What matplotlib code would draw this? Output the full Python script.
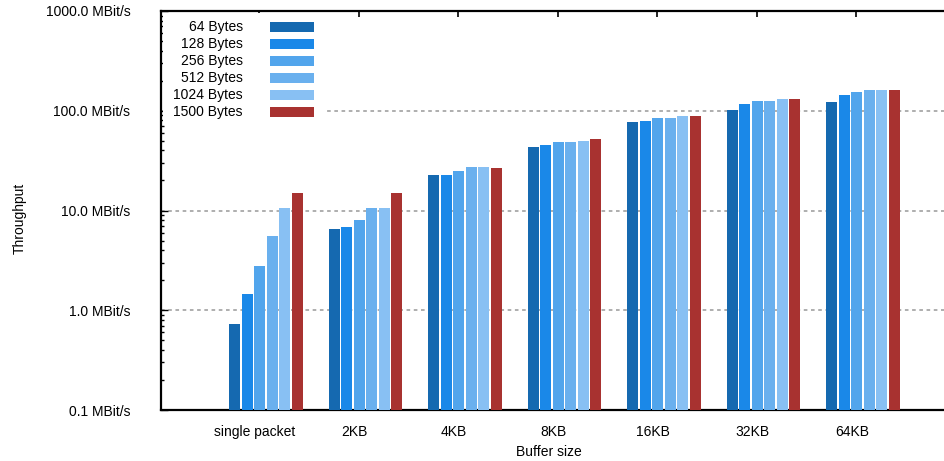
import numpy as np
import matplotlib
matplotlib.use("Agg")
import matplotlib.pyplot as plt
from matplotlib.patches import Rectangle

plt.rcParams['font.family'] = ['Liberation Sans', 'DejaVu Sans']
plt.rcParams['font.size'] = 10

# data (MBit/s)
buffers = ['single packet', '2KB', '4KB', '8KB', '16KB', '32KB', '64KB']
series = ['64 Bytes', '128 Bytes', '256 Bytes', '512 Bytes', '1024 Bytes', '1500 Bytes']
colors = ['#1569b0', '#1a88e8', '#52a5ec', '#6ab0ee', '#88c0f3', '#a83230']

tp_64 = [0.63, 6.4, 22.7, 43.3, 77.0, 102, 122]
tp_128 = [1.36, 6.7, 22.7, 45.4, 79.0, 117, 144]
tp_256 = [2.65, 7.85, 24.9, 48.6, 84.5, 125, 154]
tp_512 = [5.4, 10.6, 27.3, 48.6, 84.5, 125, 161]
tp_1024 = [10.6, 10.6, 27.3, 49.7, 88.5, 131, 161]
tp_1500 = [15.0, 15.0, 26.7, 52.1, 88.5, 131, 161]
values = [tp_64, tp_128, tp_256, tp_512, tp_1024, tp_1500]

fig = plt.figure(figsize=(9.44, 4.61), dpi=100)
ax = fig.add_axes([161/944, 1 - 410/461, (944 - 161)/944, 399/461])

x = np.arange(len(buffers))
pitch = 0.126
width = 0.112
shift = 0.067
for j, (vals, col) in enumerate(zip(values, colors)):
    ax.bar(x + shift + (j - 2.5) * pitch, vals, width=width, color=col,
           bottom=0.1, zorder=3)

ax.set_yscale('log')
ax.set_ylim(0.1, 1000)
ax.set_xlim(-0.988, 6.88)

ax.set_yticks([0.1, 1, 10, 100, 1000])
ax.set_yticklabels(['%.1f MBit/s' % v for v in [0.1, 1, 10, 100, 1000]])
# labels sit a bit left of the tick marks, like gnuplot does
ax.set_xticks(x - 0.045)
ax.set_xticklabels(buffers)
ax.set_xticks(x, minor=True)

ax.tick_params(axis='y', which='major', direction='in', length=5, width=1, pad=22)
ax.tick_params(axis='y', which='minor', direction='in', length=2.5, width=1)
ax.tick_params(axis='x', which='major', length=0, bottom=False, top=False,
               labelbottom=True, pad=10.5)
ax.tick_params(axis='x', which='minor', direction='in', length=4.5, width=1.2,
               bottom=False, top=True)

for s in ['left', 'bottom', 'top']:
    ax.spines[s].set_linewidth(1.6)
ax.spines['right'].set_visible(False)

for g in [1, 10, 100]:
    ax.axhline(g, color='#a8a8a8', linestyle=(0, (2, 2)), linewidth=1.3, zorder=1)

ax.set_ylabel('Throughput')
ax.yaxis.set_label_coords(-0.172, 0.48)
ax.set_xlabel('Buffer size')
ax.xaxis.set_label_coords(0.496, -0.088)

# legend (gnuplot style: text right-aligned, swatch to the right)
ax.add_patch(Rectangle((0.003, 0.72), 0.205, 0.275, transform=ax.transAxes,
                       facecolor='white', edgecolor='none', zorder=2))
for j, (lab, col) in enumerate(zip(series, colors)):
    yc = 0.960 - j * 0.0426
    ax.text(0.1047, yc, lab, transform=ax.transAxes, ha='right', va='center',
            zorder=4)
    ax.add_patch(Rectangle((0.1392, yc - 0.0125), 0.0562, 0.025,
                           transform=ax.transAxes, facecolor=col,
                           edgecolor='none', zorder=4))

fig.savefig('out.png', dpi=100)
